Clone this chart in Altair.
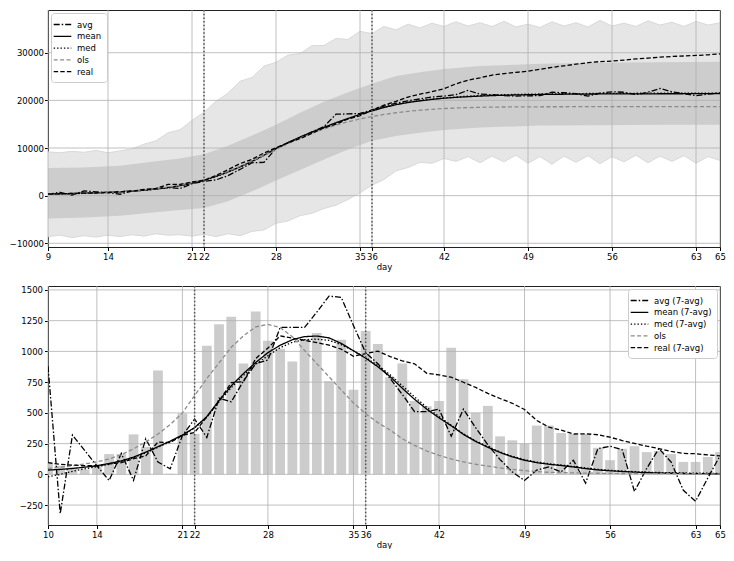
import altair as alt
import pandas as pd

FONT = "DejaVu Sans"

# ---------------- top panel (cumulative) ----------------
days_top = list(range(9, 66))
top_xticks = [9, 14, 21, 22, 28, 35, 36, 42, 49, 56, 63, 65]
top_yticks = [-10000, 0, 10000, 20000, 30000]
marker_days = [22, 36]

avg_top = [300, 700, 100, 1000, 800, 650, 300, 950, 1150, 1450, 1700, 1500, 2500, 3000, 3300, 4200, 5500,
           6900, 7000, 9900, 11100, 12200, 13400, 14500, 17100, 17150, 17250, 18000, 18800, 19400, 19900,
           20300, 20700, 20900, 21200, 22100, 21300, 21200, 21000, 20900, 20950, 21000, 21700, 21600, 21400,
           20900, 21500, 21800, 21700, 21200, 21700, 22500, 21800, 21400, 21000, 21300, 21600]
mean_top = [350, 400, 460, 530, 610, 700, 820, 960, 1150, 1400, 1720, 2120, 2620, 3250, 4050, 5000, 6050,
            7200, 8500, 9900, 11150, 12300, 13350, 14350, 15300, 16200, 17050, 17800, 18500, 19100, 19550,
            19900, 20200, 20450, 20630, 20780, 20900, 21000, 21080, 21140, 21190, 21230, 21260, 21290, 21310,
            21330, 21345, 21355, 21365, 21372, 21380, 21385, 21390, 21395, 21400, 21400, 21400]
med_top = [280, 340, 410, 490, 580, 680, 800, 940, 1120, 1370, 1690, 2080, 2580, 3200, 3990, 4940, 5980,
           7120, 8420, 9800, 11050, 12200, 13250, 14270, 15250, 16180, 17050, 17820, 18540, 19150, 19610,
           19970, 20280, 20530, 20720, 20880, 21010, 21110, 21190, 21250, 21300, 21340, 21370, 21400, 21420,
           21440, 21455, 21470, 21480, 21490, 21500, 21510, 21515, 21520, 21525, 21530, 21530]
ols_top = [300, 350, 410, 480, 570, 680, 820, 990, 1210, 1480, 1820, 2230, 2740, 3390, 4180, 5100, 6140,
           7280, 8490, 9720, 10930, 12060, 13080, 13990, 14800, 15500, 16100, 16610, 17040, 17400, 17700,
           17940, 18130, 18290, 18400, 18480, 18540, 18580, 18610, 18630, 18645, 18655, 18660, 18665, 18670,
           18672, 18674, 18676, 18678, 18680, 18680, 18680, 18680, 18680, 18680, 18680, 18680]
real_top = [300, 390, 460, 520, 560, 630, 800, 960, 1290, 1510, 2360, 2360, 2860, 3190, 4230, 5450, 6730,
            7630, 8960, 10050, 11070, 11980, 13080, 14230, 14990, 16090, 16770, 17940, 19000, 19790, 20690,
            21290, 21840, 22440, 23470, 24240, 24740, 25300, 25610, 25880, 26130, 26530, 26930, 27260, 27590,
            27920, 28140, 28250, 28460, 28690, 28870, 29060, 29220, 29320, 29430, 29570, 29750]

# envelope of the simulated trajectories (jagged upper / lower edges)
sim_upper = [9200, 9000, 9300, 9100, 9500, 9000, 9400, 9800, 10800, 11500, 13200, 13800, 15800, 17500, 19800,
             21500, 24000, 24800, 27200, 28000, 29500, 29800, 31500, 31500, 33000, 32800, 34500, 34000, 35500,
             34800, 36000, 35200, 36200, 35500, 36500, 35600, 36300, 35500, 36600, 35400, 36000, 35300, 36500,
             35600, 36300, 35400, 36800, 35600, 36200, 35500, 36700, 35800, 36400, 35500, 36600, 35800, 36300]
sim_lower = [-8600, -8300, -8800, -8400, -8700, -8300, -8600, -8200, -8500, -8000, -8300, -8200, -8500, -8100,
             -8600, -8000, -8400, -7500, -7200, -5800, -5300, -4200, -3700, -2700, -2000, -800, 600, 2200, 3400,
             5200, 5900, 7000, 6800, 7800, 7200, 8200, 6900, 8300, 7100, 8500, 6800, 8200, 6600, 8300, 7000,
             8400, 6700, 8200, 7100, 8500, 6900, 8300, 7200, 8400, 6800, 8200, 7400]

# inner (darker) band
band_days = [9, 12, 15, 18, 20, 22, 24, 26, 28, 30, 32, 34, 36, 38, 40, 42, 45, 50, 55, 60, 65]
band_upper = [5800, 5900, 6300, 7200, 7800, 8700, 10500, 12600, 14900, 17400, 19700, 21700, 23500, 25100,
              25900, 26600, 27200, 27700, 27900, 28000, 28100]
band_lower = [-4800, -4600, -4200, -3500, -3000, -2600, -1200, 900, 3200, 5400, 7600, 9700, 11500, 12500,
              13200, 13800, 14300, 14700, 14800, 14900, 14900]

# ---------------- bottom panel (daily) ----------------
days_bot = list(range(10, 66))
bot_xticks = [10, 14, 21, 22, 28, 35, 36, 42, 49, 56, 63, 65]
bot_yticks = [-250, 0, 250, 500, 750, 1000, 1250, 1500]

bars_real = [93, 70, 55, 40, 75, 165, 165, 325, 224, 845, 5, 496, 328, 1045, 1220, 1282, 901, 1325, 1087, 1021,
             917, 1100, 1149, 757, 1095, 688, 1165, 1061, 789, 901, 597, 554, 597, 1029, 773, 501, 557, 309, 277,
             250, 397, 397, 336, 328, 328, 216, 115, 208, 229, 181, 190, 165, 101, 101, 141, 181]
avg7 = [880, -320, 320, 195, 70, -50, 170, -50, 290, 100, 45, 315, 450, 300, 620, 590, 760, 900, 930, 1195, 1195,
        1195, 1320, 1450, 1440, 1210, 990, 900, 780, 650, 510, 510, 530, 310, 530, 380, 240, 120, 20, -50, 35, 60,
        20, 115, -72, 208, 229, 200, -139, 48, 210, 100, -130, -219, -30, 150]
mean7 = [35, 40, 48, 58, 70, 88, 110, 140, 180, 225, 270, 320, 380, 470, 600, 720, 820, 910, 990, 1050, 1095, 1120,
         1125, 1110, 1065, 1005, 945, 875, 795, 700, 610, 530, 460, 395, 325, 268, 220, 178, 142, 115, 95, 82, 72,
         60, 47, 36, 29, 23, 18, 14, 11, 9, 7, 6, 5, 4]
med7 = [-20, 0, 25, 45, 62, 82, 105, 135, 175, 220, 265, 315, 378, 465, 590, 705, 805, 895, 965, 1030, 1075, 1095,
        1100, 1090, 1055, 1005, 950, 885, 810, 720, 630, 545, 470, 400, 330, 272, 225, 182, 147, 120, 100, 86, 76,
        64, 52, 41, 33, 27, 22, 18, 15, 13, 11, 10, 9, 8]
ols_d = [48, 58, 70, 85, 101, 125, 160, 208, 262, 328, 405, 500, 640, 780, 906, 1034, 1127, 1199, 1220, 1194, 1119,
         1007, 901, 794, 687, 581, 493, 421, 360, 290, 235, 190, 155, 125, 101, 82, 67, 52, 40, 30, 22, 17, 14, 12,
         10, 9, 8, 7, 7, 6, 6, 5, 5, 5, 4, 4]
real7 = [95, 82, 75, 70, 70, 85, 95, 128, 150, 263, 258, 318, 341, 467, 595, 746, 754, 942, 1027, 1126, 1108, 1090,
         1071, 1051, 1018, 961, 982, 1002, 958, 922, 899, 822, 809, 790, 749, 707, 658, 617, 578, 528, 438, 384, 360,
         328, 330, 322, 302, 275, 251, 229, 210, 186, 170, 168, 158, 151]

top_names = ["avg", "mean", "med", "ols", "real"]
bot_names = ["avg (7-avg)", "mean (7-avg)", "med (7-avg)", "ols", "real (7-avg)"]
line_colors = ["#000000", "#000000", "#000000", "#8c8c8c", "#000000"]
line_dashes = [[6, 2, 1.5, 2], [1, 0], [1.4, 2], [4, 2.4], [4.4, 2.2]]

GRID = "#b0b0b0"


def long_frame(days, names, series):
    rows = []
    for name, vals in zip(names, series):
        assert len(vals) == len(days), (name, len(vals))
        for d, v in zip(days, vals):
            rows.append({"day": d, "value": v, "series": name})
    return pd.DataFrame(rows)


def axis_x(ticks):
    return alt.Axis(values=ticks, format="d", grid=False, domain=False, tickColor="#000", tickSize=3.5,
                    labelFont=FONT, labelFontSize=8.5, labelColor="#000", labelPadding=2, labelOverlap=False,
                    labelFlush=False, title="day", titleFont=FONT, titleFontSize=8.5, titleFontWeight="normal",
                    titleColor="#000", titlePadding=1)


def axis_y(ticks, pad):
    return alt.Axis(values=ticks, format="d", grid=False, domain=False, tickColor="#000", tickSize=3.5,
                    labelFont=FONT, labelFontSize=8.5, labelColor="#000", labelPadding=pad, labelOverlap=False,
                    labelFlush=False, title=None)


def legend(orient):
    return alt.Legend(orient=orient, offset=3, title=None, fillColor="white", strokeColor="#cccccc",
                      cornerRadius=3, padding=5, symbolType="M-1.6,0H1.6", symbolSize=121,
                      symbolStrokeWidth=1.3, labelFont=FONT, labelFontSize=8.5, labelColor="#000",
                      rowPadding=0.8, labelOffset=8)


def panel(days, names, series, xticks, yticks, xdom, ydom, w, h, leg_orient, ypad, under_layers):
    xs = alt.Scale(domain=xdom, nice=False, zero=False)
    ys = alt.Scale(domain=ydom, nice=False, zero=False)
    ax = axis_x(xticks)
    ay = axis_y(yticks, ypad)
    X = alt.X("day:Q", scale=xs, axis=ax)
    Y = alt.Y("value:Q", scale=ys, axis=ay)
    layers = [f(X, Y, xs, ys, ax, ay) for f in under_layers]
    layers.append(alt.Chart(pd.DataFrame({"day": xticks})).mark_rule(color=GRID, strokeWidth=0.8).encode(x=X))
    layers.append(alt.Chart(pd.DataFrame({"value": yticks})).mark_rule(color=GRID, strokeWidth=0.8).encode(y=Y))
    df = long_frame(days, names, series)
    lg = legend(leg_orient)
    layers.append(
        alt.Chart(df).mark_line(strokeWidth=1.3, clip=True).encode(
            x=X, y=Y,
            color=alt.Color("series:N", scale=alt.Scale(domain=names, range=line_colors), legend=lg),
            strokeDash=alt.StrokeDash("series:N", scale=alt.Scale(domain=names, range=line_dashes), legend=lg),
        )
    )
    layers.append(
        alt.Chart(pd.DataFrame({"day": marker_days})).mark_rule(color="#555555", strokeWidth=1.5,
                                                               strokeDash=[1.5, 2.2]).encode(x=X)
    )
    return alt.layer(*layers).properties(width=w, height=h)


env_df = pd.DataFrame({"day": days_top, "value": sim_lower, "value2": sim_upper})
band_df = pd.DataFrame({"day": band_days, "value": band_lower, "value2": band_upper})


def env_area(X, Y, xs, ys, ax, ay):
    return alt.Chart(env_df).mark_area(color="#e6e6e6", clip=True).encode(x=X, y=Y, y2="value2:Q")


def env_up(X, Y, xs, ys, ax, ay):
    return alt.Chart(env_df).mark_line(color="#d9d9d9", strokeWidth=1, clip=True).encode(
        x=X, y=alt.Y("value2:Q", scale=ys, axis=ay))


def env_lo(X, Y, xs, ys, ax, ay):
    return alt.Chart(env_df).mark_line(color="#d9d9d9", strokeWidth=1, clip=True).encode(x=X, y=Y)


def band_area(X, Y, xs, ys, ax, ay):
    return alt.Chart(band_df).mark_area(color="#cdcdcd", clip=True).encode(x=X, y=Y, y2="value2:Q")


bar_df = pd.DataFrame({"day": days_bot, "value": bars_real})


def bars(X, Y, xs, ys, ax, ay):
    return alt.Chart(bar_df).transform_calculate(
        lo="datum.day - 0.4", hi="datum.day + 0.4"
    ).mark_rect(color="#cccccc", clip=True).encode(
        x=alt.X("lo:Q", scale=xs, axis=ax), x2="hi:Q", y=Y, y2=alt.datum(0)
    )


top = panel(days_top, top_names, [avg_top, mean_top, med_top, ols_top, real_top], top_xticks, top_yticks,
            [9, 65], [-10780, 38970], 672, 237, "top-left", 1, [env_area, env_up, env_lo, band_area])
bottom = panel(days_bot, bot_names, [avg7, mean7, med7, ols_d, real7], bot_xticks, bot_yticks,
               [10, 65], [-412, 1532], 672, 239, "top-right", 2, [bars])

chart = alt.concat(top, bottom, columns=1, spacing=13, align="none").resolve_scale(
    x="independent", y="independent", color="independent", strokeDash="independent"
).resolve_axis(x="independent", y="independent").resolve_legend(
    color="independent", strokeDash="independent"
).properties(
    padding={"left": 0, "top": 0, "right": 0, "bottom": 0},
    autosize=alt.AutoSizeParams(type="pad"),
).configure(
    font=FONT, padding={"left": 0, "top": 0, "right": 0, "bottom": 0}
).configure_view(stroke="#222222", strokeWidth=1)

chart.save("out.html", embed_options={"renderer": "svg", "actions": False})
